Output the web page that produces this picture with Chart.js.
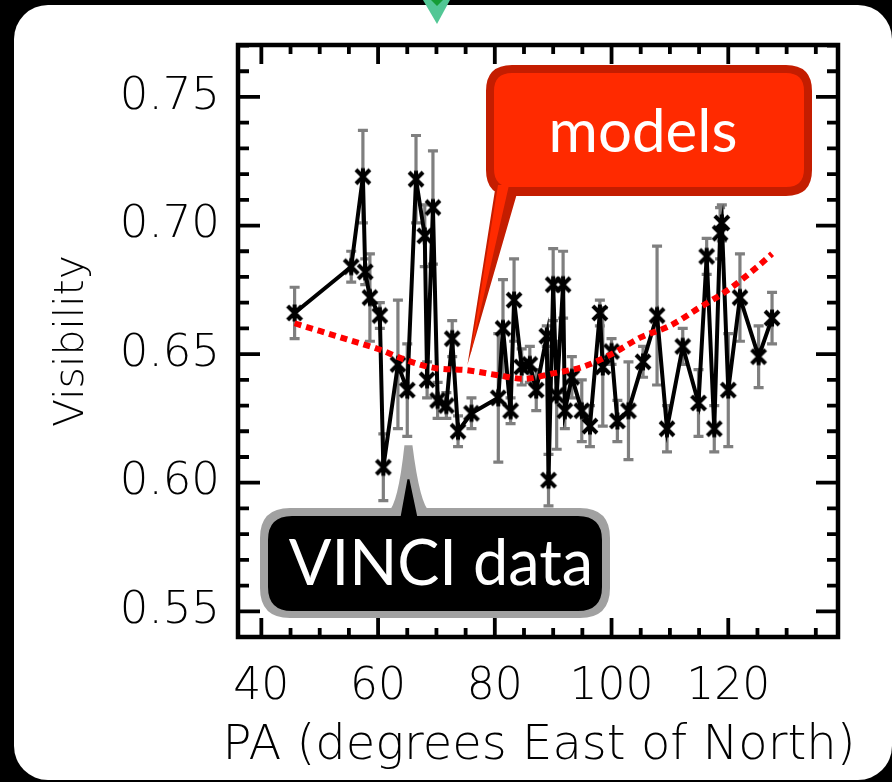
<!DOCTYPE html>
<html>
<head>
<meta charset="utf-8">
<title>Visibility vs PA</title>
<script src="https://cdn.jsdelivr.net/npm/chart.js@4/dist/chart.umd.min.js"></script>
<style>
  html, body { margin: 0; padding: 0; background: #000; width: 892px; height: 782px; overflow: hidden; }
  #panel { position: absolute; left: 14px; top: 5px; width: 878px; height: 775px; background: #fff; border-radius: 34px; }
  #cv { position: absolute; left: 0; top: 0; }
  #notch { position: absolute; left: 0; top: 0; }
</style>
</head>
<body>
<div id="panel"></div>
<canvas id="cv" width="892" height="782"></canvas>
<svg id="notch" width="892" height="30">
  <polygon points="423,0 450,0 437,24" fill="#52c795"/>
  <polygon points="431,0 443,0 437,6" fill="#159c35"/>
</svg>
<script>
// VINCI squared visibilities against baseline position angle
const paDeg = [45.7, 55.4, 57.4, 57.8, 58.6, 60.3, 60.9, 63.4, 65.0, 66.5,
               68.0, 68.4, 69.4, 70.2, 71.7, 72.7, 73.7, 76.0, 80.6, 81.4,
               82.7, 83.3, 84.6, 86.0, 87.1, 88.9, 89.2, 90.0, 90.6, 91.7,
               92.0, 93.2, 94.9, 96.3, 98.0, 98.5, 100.0, 101.0, 102.9, 105.4,
               107.8, 109.5, 112.2, 114.9, 116.3, 117.6, 118.6, 118.9, 120.0, 122.0,
               125.2, 127.5];
const visibility = [0.666, 0.684, 0.719, 0.682, 0.672, 0.665, 0.606, 0.646, 0.636, 0.718,
                    0.696, 0.640, 0.707, 0.632, 0.630, 0.656, 0.620, 0.627, 0.633, 0.660,
                    0.628, 0.671, 0.645, 0.646, 0.636, 0.657, 0.601, 0.677, 0.634, 0.677,
                    0.628, 0.641, 0.628, 0.622, 0.666, 0.645, 0.651, 0.624, 0.628, 0.647,
                    0.665, 0.621, 0.653, 0.631, 0.688, 0.621, 0.697, 0.701, 0.636, 0.672,
                    0.649, 0.664];
const visErr = [0.010, 0.006, 0.018, 0.005, 0.017, 0.005, 0.013, 0.025, 0.018, 0.017,
                0.012, 0.007, 0.022, 0.007, 0.005, 0.007, 0.006, 0.006, 0.025, 0.019,
                0.005, 0.016, 0.007, 0.007, 0.008, 0.004, 0.010, 0.014, 0.021, 0.013,
                0.007, 0.008, 0.012, 0.008, 0.005, 0.023, 0.005, 0.008, 0.019, 0.006,
                0.027, 0.009, 0.007, 0.013, 0.007, 0.009, 0.010, 0.007, 0.022, 0.017,
                0.012, 0.010];

// model visibility curve
const modelPA  = [45.7, 50, 55, 60, 65, 70, 75, 80, 85, 90, 95, 100, 105, 110, 115, 120, 125, 127.5];
const modelVis = [0.662, 0.659, 0.6555, 0.652, 0.6475, 0.6445, 0.6438, 0.642, 0.6404, 0.6425,
                  0.645, 0.650, 0.6565, 0.661, 0.668, 0.675, 0.684, 0.689];

// axes
const xRange = [36.0, 138.8];
const yRange = [0.540, 0.7702];
const xMajorTicks = [40, 60, 80, 100, 120];
const xMinorTicks = [45, 50, 55, 65, 70, 75, 85, 90, 95, 105, 110, 115, 125, 130, 135];
const yMajorTicks = [0.55, 0.60, 0.65, 0.70, 0.75];
const yMinorTicks = [0.56, 0.57, 0.58, 0.59, 0.61, 0.62, 0.63, 0.64, 0.66, 0.67, 0.68, 0.69,
                     0.71, 0.72, 0.73, 0.74, 0.76, 0.77];
const xTitle = 'PA (degrees East of North)';
const yTitle = 'Visibility';

const AXIS_FONT = "'DejaVu Sans', 'Liberation Sans', sans-serif";
const CALLOUT_FONT = "Lato, 'Open Sans', sans-serif";

// asterisk marker
const star = document.createElement('canvas');
star.width = 20; star.height = 20;
(function () {
  const g = star.getContext('2d');
  g.strokeStyle = '#000';
  g.lineWidth = 4;
  g.beginPath();
  g.moveTo(3, 3); g.lineTo(17, 17);
  g.moveTo(17, 3); g.lineTo(3, 17);
  g.moveTo(10, 1.5); g.lineTo(10, 18.5);
  g.stroke();
})();

// grey error bars, drawn under the data line
const errorBars = {
  id: 'errorBars',
  beforeDatasetsDraw(chart) {
    const { ctx, scales: { x, y }, chartArea: a } = chart;
    ctx.save();
    ctx.beginPath();
    ctx.rect(a.left, a.top, a.right - a.left, a.bottom - a.top);
    ctx.clip();
    ctx.strokeStyle = '#7f7f7f';
    ctx.lineWidth = 3.2;
    ctx.beginPath();
    paDeg.forEach((p, i) => {
      const px = x.getPixelForValue(p);
      const top = y.getPixelForValue(visibility[i] + visErr[i]);
      const bot = y.getPixelForValue(visibility[i] - visErr[i]);
      ctx.moveTo(px, top); ctx.lineTo(px, bot);
      ctx.moveTo(px - 5, top); ctx.lineTo(px + 5, top);
      ctx.moveTo(px - 5, bot); ctx.lineTo(px + 5, bot);
    });
    ctx.stroke();
    ctx.restore();
  }
};

// box frame with inward ticks on all four sides
const frame = {
  id: 'frame',
  afterDatasetsDraw(chart) {
    const { ctx, scales: { x, y }, chartArea: a } = chart;
    ctx.save();
    ctx.strokeStyle = '#000';
    ctx.lineWidth = 3.8;
    ctx.beginPath();
    const xt = (v, len) => {
      const px = x.getPixelForValue(v);
      ctx.moveTo(px, a.bottom); ctx.lineTo(px, a.bottom - len);
      ctx.moveTo(px, a.top); ctx.lineTo(px, a.top + len);
    };
    const yt = (v, len) => {
      const py = y.getPixelForValue(v);
      ctx.moveTo(a.left, py); ctx.lineTo(a.left + len, py);
      ctx.moveTo(a.right, py); ctx.lineTo(a.right - len, py);
    };
    xMajorTicks.forEach(v => xt(v, 19));
    xMinorTicks.forEach(v => xt(v, 9));
    yMajorTicks.forEach(v => yt(v, 22));
    yMinorTicks.forEach(v => yt(v, 11));
    ctx.stroke();
    ctx.lineWidth = 4.5;
    ctx.strokeRect(a.left, a.top, a.right - a.left, a.bottom - a.top);
    ctx.restore();
  }
};

function roundRectPath(ctx, x, y, w, h, r) {
  ctx.moveTo(x + r, y);
  ctx.lineTo(x + w - r, y);
  ctx.quadraticCurveTo(x + w, y, x + w, y + r);
  ctx.lineTo(x + w, y + h - r);
  ctx.quadraticCurveTo(x + w, y + h, x + w - r, y + h);
  ctx.lineTo(x + r, y + h);
  ctx.quadraticCurveTo(x, y + h, x, y + h - r);
  ctx.lineTo(x, y + r);
  ctx.quadraticCurveTo(x, y, x + r, y);
  ctx.closePath();
}

// x-axis title and the two speech-bubble labels
const annotations = {
  id: 'annotations',
  afterDraw(chart) {
    const { ctx, scales: { x, y }, chartArea: a } = chart;
    ctx.save();

    // x-axis title, centred under the plot
    ctx.fillStyle = '#000';
    ctx.font = `200 48px ${AXIS_FONT}`;
    ctx.textAlign = 'center';
    ctx.textBaseline = 'alphabetic';
    ctx.fillText(xTitle, (a.left + a.right) / 2 + 1, 759);

    // "models" bubble pointing at the model curve
    const mx = x.getPixelForValue(75.3), my = y.getPixelForValue(0.6458);
    ctx.fillStyle = '#c41d00';
    ctx.beginPath();
    roundRectPath(ctx, 486, 65, 326, 131, 26);
    ctx.moveTo(495, 190); ctx.lineTo(518, 190); ctx.lineTo(mx, my); ctx.closePath();
    ctx.fill();
    ctx.fillStyle = '#ff2a00';
    ctx.beginPath();
    roundRectPath(ctx, 494, 73, 310, 114, 18);
    ctx.moveTo(498, 185); ctx.lineTo(509, 185); ctx.lineTo(mx + 3, my - 10); ctx.closePath();
    ctx.fill();
    ctx.fillStyle = '#fff';
    ctx.font = `400 60px ${CALLOUT_FONT}`;
    ctx.textAlign = 'center';
    ctx.fillText('models', 643, 152);

    // "VINCI data" bubble pointing up at the measurements
    const vx = x.getPixelForValue(65.2), vy = y.getPixelForValue(0.6146);
    ctx.fillStyle = '#a1a1a1';
    ctx.beginPath();
    roundRectPath(ctx, 260, 508, 350, 110, 30);
    ctx.moveTo(388, 512);
    ctx.quadraticCurveTo(398, 505, vx - 4, vy);
    ctx.lineTo(vx + 4, vy);
    ctx.quadraticCurveTo(420, 505, 430, 512);
    ctx.closePath();
    ctx.fill();
    ctx.fillStyle = '#000';
    ctx.beginPath();
    roundRectPath(ctx, 268, 516, 334, 95, 24);
    ctx.moveTo(400, 520); ctx.lineTo(vx - 1, vy + 34); ctx.lineTo(vx + 1, vy + 34); ctx.lineTo(418, 520); ctx.closePath();
    ctx.fill();
    ctx.fillStyle = '#fff';
    ctx.font = `400 63px ${CALLOUT_FONT}`;
    ctx.fillText('VINCI data', 441, 585);

    ctx.restore();
  }
};

new Chart(document.getElementById('cv'), {
  type: 'scatter',
  data: {
    datasets: [
      {
        label: 'models',
        data: modelPA.map((p, i) => ({ x: p, y: modelVis[i] })),
        showLine: true,
        borderColor: '#ff0000',
        borderWidth: 6,
        borderDash: [7, 5],
        borderCapStyle: 'butt',
        cubicInterpolationMode: 'monotone',
        pointRadius: 0,
        order: 0
      },
      {
        label: 'VINCI data',
        data: paDeg.map((p, i) => ({ x: p, y: visibility[i] })),
        showLine: true,
        borderColor: '#000',
        borderWidth: 4,
        pointStyle: star,
        pointRadius: 10,
        order: 1
      }
    ]
  },
  options: {
    responsive: false,
    animation: false,
    events: [],
    layout: { padding: { left: 0, top: 38, right: 54, bottom: 0 } },
    plugins: { legend: { display: false }, tooltip: { enabled: false } },
    scales: {
      x: {
        type: 'linear',
        min: xRange[0],
        max: xRange[1],
        afterBuildTicks: s => { s.ticks = xMajorTicks.map(v => ({ value: v })); },
        afterFit: s => { s.height = 145; },
        grid: { display: false, drawTicks: false },
        border: { display: false },
        ticks: {
          color: '#000',
          padding: 24,
          maxRotation: 0,
          autoSkip: false,
          font: { family: AXIS_FONT, size: 44, weight: '200' },
          callback: v => String(v)
        }
      },
      y: {
        type: 'linear',
        min: yRange[0],
        max: yRange[1],
        afterBuildTicks: s => { s.ticks = yMajorTicks.map(v => ({ value: v })); },
        afterFit: s => { s.width = 238; },
        grid: { display: false, drawTicks: false },
        border: { display: false },
        title: {
          display: true,
          text: yTitle,
          color: '#000',
          padding: { top: 48, bottom: 0 },
          font: { family: AXIS_FONT, size: 41, weight: '200' }
        },
        ticks: {
          color: '#000',
          padding: 18,
          autoSkip: false,
          font: { family: AXIS_FONT, size: 45, weight: '200' },
          callback: v => v.toFixed(2)
        }
      }
    }
  },
  plugins: [errorBars, frame, annotations]
});
</script>
</body>
</html>
